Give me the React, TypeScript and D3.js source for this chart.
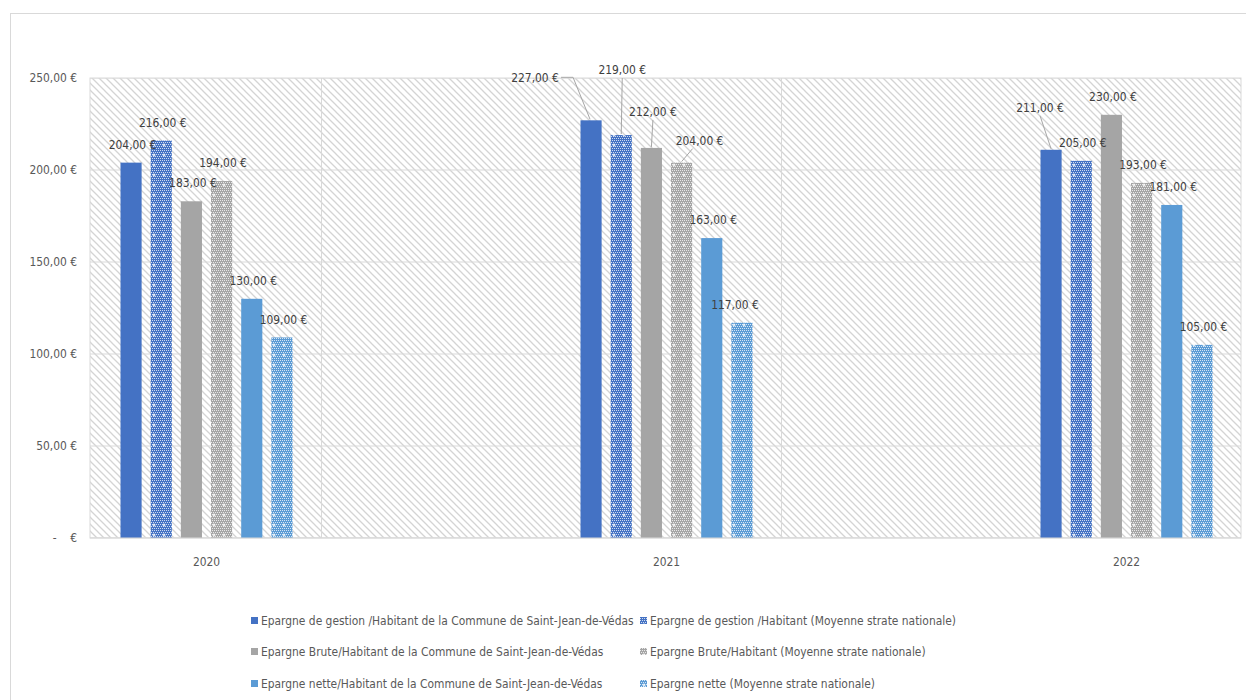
import React from "react";
import * as d3 from "d3";

const years = ["2020", "2021", "2022"];
const seriesNames = [
  "Epargne de gestion /Habitant de la Commune de Saint-Jean-de-Védas",
  "Epargne de gestion /Habitant (Moyenne strate nationale)",
  "Epargne Brute/Habitant de la Commune de Saint-Jean-de-Védas",
  "Epargne Brute/Habitant (Moyenne strate nationale)",
  "Epargne nette/Habitant de la Commune de Saint-Jean-de-Védas",
  "Epargne nette (Moyenne strate nationale)",
];
const gestionCommune = [204, 227, 211];
const gestionMoyenne = [216, 219, 205];
const bruteCommune = [183, 212, 230];
const bruteMoyenne = [194, 204, 193];
const netteCommune = [130, 163, 181];
const netteMoyenne = [109, 117, 105];
const seriesValues = [gestionCommune, gestionMoyenne, bruteCommune, bruteMoyenne, netteCommune, netteMoyenne];
const seriesColors = ["#4472C4", "#4472C4", "#A5A5A5", "#A5A5A5", "#5B9BD5", "#5B9BD5"];
const seriesPatterned = [false, true, false, true, false, true];
const yTicks = [0, 50, 100, 150, 200, 250];

// label placement tweaks (series index, year index) -> offset of label centre vs. bar top, leader line flag
const labelTweaks: { s: number; c: number; dx: number; dy: number; leader: boolean }[] = [
  { s: 0, c: 1, dx: -56, dy: -43, leader: true },
  { s: 1, c: 1, dx: 1, dy: -65, leader: true },
  { s: 2, c: 1, dx: 1.5, dy: -36, leader: true },
  { s: 3, c: 1, dx: 18, dy: -22, leader: true },
  { s: 5, c: 1, dx: -7, dy: -18, leader: false },
  { s: 0, c: 2, dx: -11, dy: -42, leader: true },
];

const W = 1246;
const H = 700;
const plotLeft = 90;
const plotRight = 1241;
const plotTop = 78;
const plotBottom = 538;
const FONT = "'DejaVu Sans Condensed', 'DejaVu Sans', Arial, sans-serif";
const FS = 11.9;

const fmt = (v: number) => (v === 0 ? "-    €" : v.toFixed(2).replace(".", ",") + " €");

export default function App() {
  const y = d3.scaleLinear().domain([0, 250]).range([plotBottom, plotTop]);
  const x = d3.scaleBand<string>().domain(years).range([-23.5, 1356.5]).padding(0);
  const step = x.bandwidth();
  const groupHalf = 86;
  const inner = d3
    .scaleBand<number>()
    .domain(d3.range(seriesNames.length))
    .range([-groupHalf, groupHalf])
    .paddingInner(0.3)
    .paddingOuter(0);
  const bw = inner.bandwidth();
  const center = (yr: string) => (x(yr) as number) + step / 2;
  const vGrid = years.map((yr) => center(yr) + step / 4).filter((v) => v < plotRight - 2);

  const patId = (i: number) => `pat${i}`;

  const labels: JSX.Element[] = [];
  seriesValues.forEach((vals, s) => {
    vals.forEach((v, c) => {
      const bx = center(years[c]) + (inner(s) as number) + bw / 2;
      const top = y(v);
      const tw = labelTweaks.find((t) => t.s === s && t.c === c);
      const dx = tw ? tw.dx : 1.5;
      const dy = tw ? tw.dy : -18;
      const cx = bx + dx;
      const cy = top + dy;
      if (tw && tw.leader) {
        let pts: [number, number][];
        if (Math.abs(dx) > 30) {
          const sx = cx + 26;
          pts = [
            [sx, cy],
            [sx + 12, cy],
            [bx - 1, top - 1],
          ];
        } else {
          const sx = cx + (dx > 10 ? -7 : 0);
          pts = [
            [sx, cy + 8],
            [bx, top - 1],
          ];
        }
        labels.push(
          <path
            key={`l${s}-${c}`}
            d={d3.line()(pts) as string}
            fill="none"
            stroke="#a6a6a6"
            strokeWidth={1}
          />
        );
      }
      labels.push(
        <text
          key={`t${s}-${c}`}
          x={cx}
          y={cy + 4.2}
          textAnchor="middle"
          fontSize={FS}
          fill="#404040"
          fontFamily={FONT}
        >
          {fmt(v)}
        </text>
      );
    });
  });

  const legendRows = [621, 652, 684];
  const legendCols = [251, 640];

  return (
    <svg
      width={W}
      height={H}
      style={{ position: "absolute", left: 0, top: 0, background: "#fff" }}
      fontFamily={FONT}
    >
      <defs>
        <pattern id="hatch" width={7} height={7} patternUnits="userSpaceOnUse">
          <rect width={7} height={7} fill="#ffffff" />
          <path d="M-1,-1 L8,8 M-1,6 L1,8 M6,-1 L8,1" stroke="#d4d4d4" strokeWidth={1.3} />
        </pattern>
        {seriesColors.map((col, i) => (
          <pattern key={i} id={patId(i)} width={10} height={10} patternUnits="userSpaceOnUse">
            <rect width={10} height={10} fill={col} />
            {d3.range(0, 10, 2).map((px) =>
              d3.range(0, 10, 2).map((py) => (
                <rect
                  key={`${px}-${py}`}
                  x={px + (py % 4 === 0 ? 0 : 1)}
                  y={py}
                  width={1}
                  height={1}
                  fill="#ffffff"
                  opacity={0.75}
                />
              ))
            )}
            <path d="M2.5,5 h3 M4,3.5 v3" stroke="#ffffff" strokeWidth={1} />
          </pattern>
        ))}
        <clipPath id="plotClip">
          <rect x={plotLeft} y={plotTop} width={plotRight - plotLeft} height={plotBottom - plotTop} />
        </clipPath>
      </defs>

      {/* chart area border */}
      <rect x={10.5} y={13.5} width={W + 50} height={H + 50} fill="none" stroke="#d9d9d9" strokeWidth={1} />

      {/* plot area */}
      <rect
        x={plotLeft}
        y={plotTop}
        width={plotRight - plotLeft}
        height={plotBottom - plotTop}
        fill="url(#hatch)"
        stroke="#d9d9d9"
      />
      <g clipPath="url(#plotClip)">
        {yTicks.map((t) => (
          <line key={t} x1={plotLeft} x2={plotRight} y1={y(t)} y2={y(t)} stroke="#d9d9d9" strokeWidth={1} />
        ))}
        {vGrid.map((gx, i) => (
          <line key={i} x1={gx} x2={gx} y1={plotTop} y2={plotBottom} stroke="#d9d9d9" strokeWidth={1} />
        ))}
      </g>

      {/* bars */}
      {seriesValues.map((vals, s) =>
        vals.map((v, c) => (
          <rect
            key={`b${s}-${c}`}
            x={center(years[c]) + (inner(s) as number)}
            y={y(v)}
            width={bw}
            height={y(0) - y(v)}
            fill={seriesPatterned[s] ? `url(#${patId(s)})` : seriesColors[s]}
          />
        ))
      )}

      <line x1={plotLeft} x2={plotRight} y1={y(0)} y2={y(0)} stroke="#d9d9d9" />

      {/* y axis labels */}
      {yTicks.map((t) => (
        <text
          key={t}
          x={77}
          y={y(t) + 4.2}
          textAnchor="end"
          fontSize={FS}
          fill="#595959"
          style={{ whiteSpace: "pre" }}
        >
          {fmt(t)}
        </text>
      ))}

      {/* x axis labels */}
      {years.map((yr) => (
        <text key={yr} x={center(yr)} y={566} textAnchor="middle" fontSize={FS} fill="#595959">
          {yr}
        </text>
      ))}

      {labels}

      {/* legend */}
      {seriesNames.map((name, i) => {
        const row = Math.floor(i / 2);
        const col = i % 2;
        const lx = legendCols[col];
        const ly = legendRows[row];
        return (
          <g key={name}>
            <rect
              x={lx}
              y={ly - 4}
              width={7}
              height={7}
              fill={seriesPatterned[i] ? `url(#${patId(i)})` : seriesColors[i]}
            />
            <text x={lx + 10} y={ly + 4.2} fontSize={FS} fill="#595959">
              {name}
            </text>
          </g>
        );
      })}
    </svg>
  );
}
